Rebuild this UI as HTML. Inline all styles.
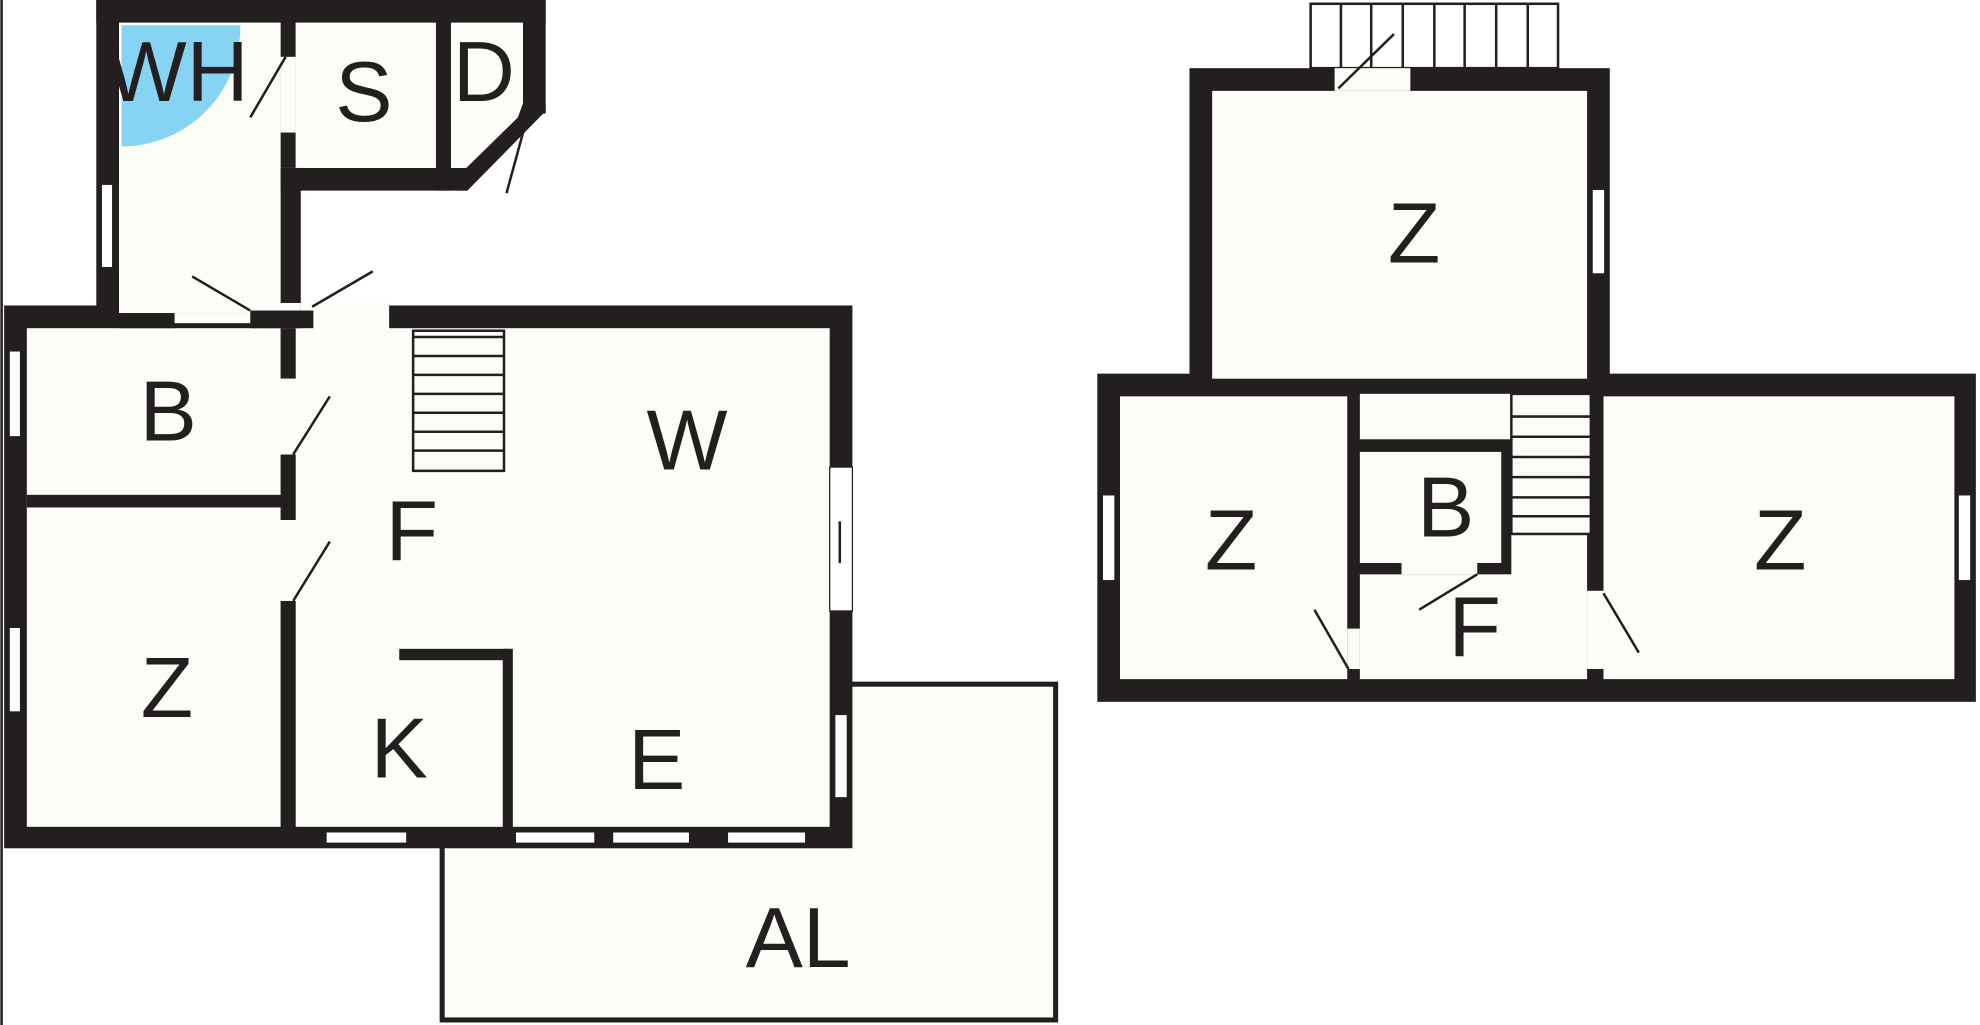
<!DOCTYPE html>
<html><head><meta charset="utf-8"><style>
html,body{margin:0;padding:0;background:#fff;}
svg{display:block}
text{font-family:"Liberation Sans",sans-serif;fill:#231f20;text-anchor:middle;dominant-baseline:central;font-size:68px}
</style></head><body>
<svg width="1980" height="1025" viewBox="0 0 1568 812" xmlns="http://www.w3.org/2000/svg">
<rect x="0" y="0" width="1568" height="812" fill="#fff"/>
<line x1="1" y1="0" x2="1" y2="812" stroke="#231f20" stroke-width="2"/>
<g fill="#231f20">
<rect x="350" y="542" width="486" height="266" fill="#fdfdf8" stroke="#231f20" stroke-width="4"/>
<rect x="3" y="242" width="672" height="430"/>
<rect x="76" y="0" width="356" height="18"/>
<rect x="76" y="0" width="18" height="260"/>
<rect x="222" y="133" width="16" height="127"/>
<rect x="222" y="133" width="148" height="18"/>
<rect x="345" y="0" width="12" height="151"/>
<rect x="414" y="0" width="18" height="90"/>
<rect x="222" y="0" width="12" height="133"/>
</g>
<g fill="#fdfdf8">
<rect x="21" y="260" width="636" height="395"/>
<rect x="94" y="18" width="128" height="230"/>
<rect x="234" y="18" width="111" height="115"/>
<polygon points="357,18 414,18 414,88 368,133 357,133"/>
<rect x="238" y="240" width="70" height="22"/>
<rect x="94" y="240" width="144" height="8"/>
<rect x="222" y="45" width="12" height="60"/>
</g>
<g fill="#231f20">
<polygon points="414,82 432,82 432,88 370,151 362,151 362,140 410,93"/>
<rect x="21" y="392" width="209" height="10"/>
<rect x="222" y="260" width="12" height="40"/>
<rect x="222" y="360" width="12" height="52"/>
<rect x="222" y="476" width="12" height="180"/>
<rect x="198" y="246" width="50" height="14"/>
<rect x="94" y="248" width="44" height="12"/>
<rect x="316" y="514" width="88" height="9"/>
<rect x="398" y="514" width="8" height="142"/>
</g>
<rect x="222" y="300" width="12" height="60" fill="#fdfdf8"/>
<rect x="222" y="412" width="12" height="64" fill="#fdfdf8"/>
<rect x="138" y="248" width="60" height="8" fill="#fdfdf8"/>
<path d="M96,20 L190,20 A94,94 0 0 1 96,116 Z" fill="#86d3f4"/>
<g fill="#fff" stroke="#231f20" stroke-width="1">
<rect x="7" y="278" width="9" height="68"/>
<rect x="7" y="497" width="9" height="67"/>
<rect x="80" y="146" width="9" height="66"/>
<rect x="258" y="659" width="64" height="9"/>
<rect x="408" y="659" width="63" height="9"/>
<rect x="485" y="659" width="61" height="9"/>
<rect x="576" y="659" width="62" height="9"/>
<rect x="661" y="566" width="10" height="66"/>
<rect x="657" y="370" width="18" height="114"/>
</g>
<g stroke="#231f20" stroke-width="2" fill="none">
<line x1="665" y1="413" x2="665" y2="446"/>
<rect x="327" y="262" width="72" height="111"/>
<line x1="327" y1="267" x2="399" y2="267"/><line x1="327" y1="282" x2="399" y2="282"/>
<line x1="327" y1="297" x2="399" y2="297"/><line x1="327" y1="312" x2="399" y2="312"/>
<line x1="327" y1="327" x2="399" y2="327"/><line x1="327" y1="342" x2="399" y2="342"/>
<line x1="327" y1="357" x2="399" y2="357"/>
<line x1="198" y1="93" x2="226" y2="45"/>
<line x1="152" y1="219" x2="198" y2="246"/>
<line x1="247" y1="243" x2="295" y2="215"/>
<line x1="232" y1="360" x2="261" y2="314"/>
<line x1="232" y1="476" x2="261" y2="429"/>
<line x1="401" y1="153" x2="416" y2="98"/>
</g>
<text x="140" y="57" font-size="56">WH</text>
<text x="288" y="73">S</text>
<text x="383" y="57">D</text>
<text x="133" y="326">B</text>
<text x="326" y="421">F</text>
<text x="544" y="349">W</text>
<text x="132" y="545">Z</text>
<text x="316" y="593">K</text>
<text x="520" y="602">E</text>
<text x="632" y="743">AL</text>

<g stroke="#231f20" stroke-width="2" fill="none">
<rect x="1038" y="3" width="196" height="51"/>
<line x1="1062" y1="3" x2="1062" y2="54"/><line x1="1086" y1="3" x2="1086" y2="54"/>
<line x1="1111" y1="3" x2="1111" y2="54"/><line x1="1136" y1="3" x2="1136" y2="54"/>
<line x1="1160" y1="3" x2="1160" y2="54"/><line x1="1185" y1="3" x2="1185" y2="54"/>
<line x1="1210" y1="3" x2="1210" y2="54"/>
</g>
<g fill="#231f20">
<rect x="942" y="54" width="333" height="260"/>
<rect x="869" y="296" width="696" height="260"/>
</g>
<g fill="#fdfdf8">
<rect x="960" y="72" width="297" height="228"/>
<rect x="1057" y="54" width="60" height="18"/>
<rect x="887" y="314" width="180" height="224"/>
<rect x="1077" y="312" width="180" height="226"/>
<rect x="1270" y="314" width="278" height="224"/>
<rect x="1067" y="498" width="10" height="32"/>
<rect x="1257" y="468" width="13" height="62"/>
</g>
<rect x="1070" y="348" width="127" height="107" fill="#231f20"/>
<rect x="1077" y="358" width="112" height="88" fill="#fdfdf8"/>
<rect x="1110" y="446" width="60" height="9" fill="#fdfdf8"/>
<g fill="#fff" stroke="#231f20" stroke-width="1">
<rect x="1261" y="150" width="10" height="67"/>
<rect x="873" y="392" width="10" height="68"/>
<rect x="1551" y="392" width="10" height="68"/>
</g>
<g stroke="#231f20" stroke-width="2" fill="none">
<rect x="1197" y="312" width="63" height="111" fill="#fdfdf8"/>
<line x1="1197" y1="330" x2="1260" y2="330"/><line x1="1197" y1="346" x2="1260" y2="346"/>
<line x1="1197" y1="362" x2="1260" y2="362"/><line x1="1197" y1="378" x2="1260" y2="378"/>
<line x1="1197" y1="394" x2="1260" y2="394"/><line x1="1197" y1="409" x2="1260" y2="409"/>
<line x1="1060" y1="70" x2="1104" y2="27"/>
<line x1="1041" y1="483" x2="1068" y2="530"/>
<line x1="1124" y1="483" x2="1170" y2="455"/>
<line x1="1270" y1="470" x2="1298" y2="517"/>
</g>
<text x="1120" y="185">Z</text>
<text x="975" y="428">Z</text>
<text x="1145" y="402">B</text>
<text x="1168" y="497">F</text>
<text x="1410" y="428">Z</text>
</svg>
</body></html>
